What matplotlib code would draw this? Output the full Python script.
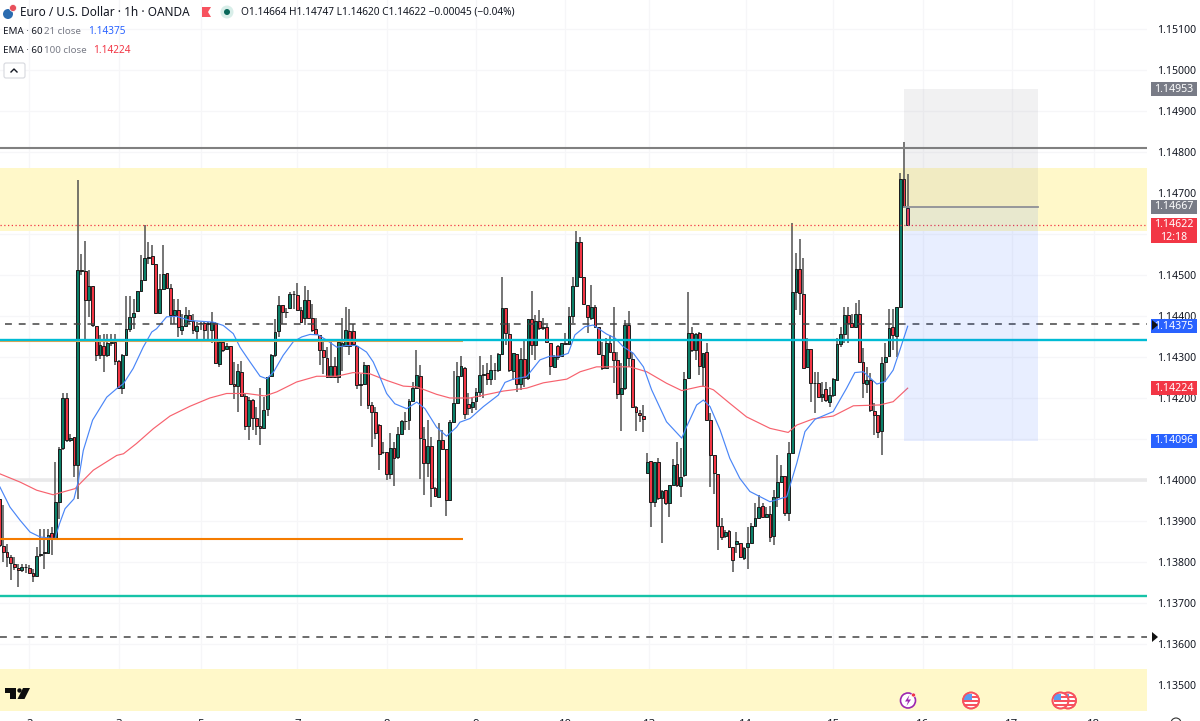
import matplotlib
matplotlib.use("Agg")
import matplotlib.pyplot as plt
from matplotlib.patches import Rectangle, Circle, Polygon, FancyBboxPatch
from matplotlib.transforms import Affine2D

plt.rcParams['font.family'] = ['Noto Sans', 'DejaVu Sans']

# ---- data (prices in 1e-5 units) ----
opens = [
113954,113839,113824,113811,113796,113786,113780,113788,113786,113773,
113766,113816,113822,113823,113871,113857,113946,114079,114201,114098,
114105,114036,114513,114509,114438,114473,114375,114306,114328,114304,
114335,114337,114290,114225,114306,114369,114398,114411,114461,114487,
114542,114547,114526,114407,114467,114505,114469,114403,114415,114367,
114376,114403,114389,114363,114382,114383,114381,114365,114383,114284,
114337,114319,114328,114235,114229,114263,114205,114132,114194,114152,
114132,114128,114172,114254,114304,114363,114427,114409,114420,114453,
114452,114414,114396,114440,114394,114369,114353,114318,114298,114251,
114277,114251,114326,114326,114363,114363,114328,114231,114235,114281,
114184,114166,114135,114069,114068,114015,114079,114056,114111,114145,
114146,114193,114225,114254,114101,114042,114083,113981,113959,114097,
114075,113952,114141,114189,114254,114274,114185,114179,114193,114214,
114257,114260,114246,114268,114268,114307,114420,114355,114267,114307,
114234,114294,114250,114392,114329,114389,114370,114374,114335,114276,
114328,114302,114335,114332,114401,114473,114581,114494,114428,114394,
114423,114372,114305,114274,114333,114311,114293,114210,114224,114377,
114296,114179,114164,114157,114018,114046,113947,114043,113955,113976,
113943,113989,114038,113986,114011,114250,114359,114317,114358,114276,
114311,114146,114061,114014,113888,113864,113876,113836,113843,113846,
113809,113836,113847,113889,113908,113937,113909,113917,113863,113959,
113996,114010,113919,114067,114459,114514,114453,114275,114320,114236,
114236,114203,114221,114191,114207,114244,114331,114356,114402,114382,
114372,114404,114287,114234,114244,114168,114159,114120,114287,114302,
114372,114352,114423,114734,114664]
highs = [
113954,113938,113845,113816,113812,113796,113794,113796,113792,113784,
113837,113881,113881,113881,113885,114044,114080,114211,114211,114113,
114105,114731,114552,114583,114511,114473,114375,114353,114357,114357,
114357,114357,114292,114308,114448,114448,114442,114461,114550,114621,
114580,114572,114526,114503,114572,114505,114479,114442,114442,114406,
114422,114414,114406,114385,114385,114389,114385,114410,114385,114341,
114341,114333,114328,114288,114284,114290,114211,114202,114198,114178,
114225,114202,114251,114308,114393,114450,114427,114420,114459,114460,
114480,114422,114472,114463,114430,114394,114353,114337,114324,114337,
114300,114337,114394,114422,114418,114381,114328,114259,114288,114281,
114190,114178,114137,114093,114068,114115,114093,114129,114146,114166,
114198,114239,114316,114280,114129,114146,114105,113983,114139,114121,
114076,114146,114267,114288,114302,114276,114211,114203,114224,114302,
114280,114285,114305,114285,114309,114494,114420,114382,114309,114307,
114321,114341,114392,114462,114402,114415,114394,114378,114335,114305,
114329,114335,114358,114421,114496,114608,114593,114494,114428,114476,
114427,114374,114337,114346,114354,114421,114313,114285,114390,114413,
114313,114180,114171,114183,114067,114046,114043,114053,113976,113976,
113988,114051,114092,114077,114263,114458,114374,114358,114362,114309,
114333,114163,114061,114014,113907,113878,113878,113837,113874,113847,
113837,113886,113894,113943,113963,113943,113935,113937,113976,114061,
114037,114010,114093,114628,114553,114589,114541,114346,114320,114264,
114264,114240,114240,114228,114248,114346,114374,114423,114423,114406,
114431,114439,114321,114276,114260,114187,114159,114301,114333,114416,
114416,114423,114748,114824,114747]
lows = [
113837,113800,113788,113755,113780,113739,113776,113772,113772,113751,
113763,113812,113784,113820,113816,113855,113906,114072,114093,114093,
114007,113954,114500,114341,114398,114373,114290,114296,114263,114300,
114328,114280,114223,114209,114304,114361,114369,114410,114459,114487,
114528,114524,114404,114406,114463,114467,114380,114380,114349,114353,
114373,114381,114357,114337,114365,114341,114341,114333,114284,114276,
114312,114316,114231,114198,114166,114202,114121,114098,114121,114109,
114086,114125,114155,114251,114300,114349,114381,114396,114418,114418,
114414,114383,114377,114393,114361,114353,114280,114259,114251,114251,
114250,114237,114267,114324,114304,114328,114223,114180,114231,114174,
114080,114101,114025,114064,114001,114003,113985,114052,114109,114121,
114121,114190,114223,114003,113963,114007,113934,113959,113959,114072,
113912,113950,114141,114186,114251,114150,114158,114163,114171,114203,
114199,114232,114232,114244,114264,114305,114329,114264,114244,114214,
114220,114228,114244,114305,114293,114366,114366,114333,114256,114275,
114293,114301,114329,114329,114384,114472,114492,114427,114358,114390,
114372,114305,114268,114272,114309,114236,114197,114120,114220,114276,
114175,114120,114142,114118,114016,113886,113933,113951,113846,113939,
113909,113988,113984,113959,114008,114248,114313,114293,114256,114228,
114146,113984,113967,113829,113854,113858,113833,113776,113821,113809,
113805,113782,113846,113886,113907,113907,113907,113850,113841,113935,
113996,113911,113901,114067,114415,114402,114272,114272,114191,114163,
114203,114191,114191,114177,114203,114244,114325,114333,114333,114370,
114370,114285,114199,114211,114167,114110,114102,114061,114240,114301,
114317,114301,114423,114663,114620]
closes = [
113841,113824,113811,113798,113788,113780,113788,113789,113774,113766,
113815,113820,113824,113867,113859,113946,114076,114201,114098,114102,
114036,114513,114509,114438,114473,114377,114306,114330,114306,114335,
114337,114290,114225,114306,114369,114398,114408,114461,114487,114541,
114545,114528,114407,114467,114503,114469,114403,114415,114372,114375,
114403,114389,114365,114375,114384,114365,114383,114385,114285,114337,
114316,114327,114235,114230,114265,114206,114132,114194,114152,114131,
114128,114170,114251,114304,114361,114428,114410,114409,114453,114454,
114415,114385,114438,114396,114367,114355,114318,114300,114251,114277,
114251,114337,114334,114365,114328,114331,114231,114235,114281,114184,
114166,114115,114064,114069,114015,114078,114054,114111,114143,114145,
114193,114224,114255,114103,114042,114083,113981,113961,114098,114075,
113952,114141,114189,114254,114277,114162,114176,114191,114214,114257,
114259,114246,114268,114268,114307,114420,114358,114268,114309,114234,
114294,114250,114392,114329,114389,114370,114374,114337,114279,114301,
114301,114333,114331,114401,114473,114581,114494,114429,114398,114421,
114374,114307,114272,114333,114311,114293,114210,114224,114377,114297,
114179,114165,114158,114150,114043,113947,114043,113955,113974,113943,
113988,114037,113988,114008,114246,114359,114317,114355,114278,114309,
114146,114061,114016,113889,113862,113872,113836,113805,113852,113811,
113833,113847,113889,113907,113935,113909,113916,113862,113958,113996,
114010,113919,114067,114459,114514,114455,114272,114320,114236,114236,
114203,114209,114195,114207,114246,114331,114356,114402,114382,114372,
114405,114289,114236,114244,114171,114159,114118,114285,114301,114370,
114354,114421,114734,114668,114622]

ema21_bars = [0.1,2.8,5.5,8.2,10.9,14.9,16.1,17.6,20,21.2,22.5,25,28.8,31.5,33.3,35.9,38.6,40.9,42.2,44.9,47.6,51.2,57.4,60.1,62.8,
              64.6,67.3,70,71.8,73.6,76.2,78.9,81.2,83.4,85.6,87.9,90.6,93.3,95.9,98.6,100.4,102.2,104,106.2,109.4,112.1,114.3,117.4,120.1,122.8,
              123.7,126.4,130,134,135.8,138,141.6,145.2,147.9,150.6,152.8,154.6,157.3,159.5,163.1,165.4,167.6,170.3,173,175.2,179.2,183.3,184.6,
              187.3,189.1,190.9,193.6,196.2,198.9,201.6,207,211.5,214.2,216.4,219.1,224,227.6,229.8,232.1,235.7,237.9,240.1,241.9,244]
ema21_vals = [113983,113934,113902,113873,113861,113857,113893,113930,113954,113999,114072,114146,114202,114223,114235,114272,114324,114361,114369,114398,114399,114389,114385,114377,114357,
              114324,114288,114253,114247,114263,114304,114337,114349,114355,114354,114341,114324,114328,114328,114312,114288,114251,114211,114186,114174,114190,114174,114129,114107,114129,
              114141,114150,114179,114207,114238,114246,114252,114293,114302,114302,114309,114354,114374,114378,114356,114346,114325,114309,114276,114220,114142,114102,114130,
              114183,114195,114179,114122,114053,114004,113972,113947,113959,114041,114118,114148,114167,114224,114262,114264,114234,114240,114268,114317,114375]
ema100_bars = [0.1,5.5,10,14.4,20.3,25.2,31.5,33.3,36.8,41.3,45.8,51.2,56.5,61,66.4,71.3,74.5,79.8,85.2,90.6,95,99.5,104,108.5,112.1,117.4,121,126.4,
               135.4,141.6,146.1,152.4,156,160.4,169.4,173.9,179.2,183.3,188.2,189.1,191.8,196.2,200.7,207,211.9,214.2,218.6,224,229.4,236.5,240.1,244]
ema100_vals = [114015,113995,113975,113964,113979,114024,114060,114064,114089,114125,114156,114180,114200,114211,114211,114205,114215,114239,114253,114253,114262,114259,114243,114229,114227,114209,114200,114200,
               114217,114224,114237,114246,114264,114276,114276,114264,114236,114218,114228,114229,114220,114187,114154,114126,114116,114134,114149,114156,114181,114183,114191,114224]

date_labels = ["2", "3", "5", "7", "8", "9", "10", "13", "14", "15", "16", "17", "18"]
date_bars = [8, 32, 54, 80, 104, 128, 152, 174.5, 200.5, 224, 248, 272, 294]
price_ticks = [1.135, 1.136, 1.137, 1.138, 1.139, 1.140, 1.141, 1.142, 1.143, 1.144, 1.145, 1.146, 1.147, 1.148, 1.149, 1.150, 1.151]
covered_ticks = [1.141, 1.146]

zone_upper = (1.14607, 1.14761)
zone_lower = (1.13430, 1.13539)
level_grey = 1.14810
level_dash_up = 1.14380
level_cyan = 1.14341
level_orange_up = 1.14339
level_orange_low = 1.13855
level_teal = 1.13717
level_dash_low = 1.13617
level_round = 1.14000
last_price = 1.14622
target_price = 1.14953
entry_price = 1.14667
stop_price = 1.14096
ema21_last = 1.14375
ema100_last = 1.14224

# ---- colours ----
BULL = "#0b8069"; BEAR = "#f23645"; BLUE = "#2962ff"; WICK = "#505050"
YELLOW = "#fff8c9"; GRID = "#f6f6f8"; TXT = "#131722"; GREY = "#787b86"

W, H = 1200, 721
fig = plt.figure(figsize=(12, 7.21), dpi=100, facecolor="white")
ax = fig.add_axes([0, 1 - 711 / H, 1147 / W, 711 / H])
ax.set_facecolor("white")
ax.set_xlim(0.124, 308.3)
ax.set_ylim(1.14 - 231 / 41000, 1.14 + 480 / 41000)
for s in ax.spines.values():
    s.set_visible(False)
ax.set_axisbelow(True)
ax.yaxis.tick_right()
ax.set_yticks(price_ticks)
ax.set_yticklabels(["" if p in covered_ticks else f"{p:.5f}" for p in price_ticks], fontsize=7.6, color=TXT)
ax.set_xticks(date_bars)
ax.set_xticklabels(date_labels, fontsize=8.2, color=TXT)
ax.tick_params(axis='both', length=0)
ax.tick_params(axis='y', pad=7)
ax.tick_params(axis='x', pad=5.8)
ax.grid(True, color=GRID, lw=0.9)

xl = ax.get_xlim()
# zones
ax.axhspan(*zone_upper, color=YELLOW, lw=0, zorder=1)
ax.axhspan(*zone_lower, color=YELLOW, lw=0, zorder=1)
ax.axhline(level_round, color="#e9e9ea", lw=2.6, zorder=1.5)

# candles
idx = list(range(len(opens)))
o = [v / 1e5 for v in opens]; h = [v / 1e5 for v in highs]
l = [v / 1e5 for v in lows]; c = [v / 1e5 for v in closes]
ax.vlines(idx, l, h, color=WICK, lw=1.1, zorder=3)
cols = [BULL if cc >= oo else BEAR for oo, cc in zip(o, c)]
ax.bar(idx, [abs(a - b) for a, b in zip(o, c)], bottom=[min(a, b) for a, b in zip(o, c)],
       width=0.76, color=cols, edgecolor="#1c1c1c", lw=0.7, zorder=4)

# EMAs
ax.plot(ema100_bars, [v / 1e5 for v in ema100_vals], color="#f7626e", lw=0.85, zorder=5)
ax.plot(ema21_bars, [v / 1e5 for v in ema21_vals], color="#4a86f7", lw=0.85, zorder=5)

# position tool
box_x = (242.9, 279.0)
ax.add_patch(Rectangle((box_x[0], entry_price), box_x[1] - box_x[0], target_price - entry_price,
                       facecolor="#787b86", alpha=0.10, lw=0, zorder=6))
ax.add_patch(Rectangle((box_x[0], stop_price), box_x[1] - box_x[0], entry_price - stop_price,
                       facecolor="#2962ff", alpha=0.105, lw=0, zorder=6))
ax.plot(box_x, [entry_price, entry_price], color="#8f9096", lw=1.3, zorder=6.5)

# levels
ax.axhline(level_grey, color="#808080", lw=1.5, zorder=5.5)
ax.hlines(level_dash_up, 1.5, xl[1], color="#444444", lw=1.1, ls=(0, (4.5, 4.5)), zorder=5.5)
ax.hlines(level_orange_up, xl[0], 124.5, color="#f9a03f", lw=1.5, zorder=5.4)
ax.hlines(level_orange_low, xl[0], 124.5, color="#f57c00", lw=1.5, zorder=5.4)
ax.axhline(level_cyan, color="#00bcd4", lw=1.7, zorder=5.6)
ax.axhline(level_teal, color="#17c3a8", lw=1.7, zorder=5.5)
ax.axhline(level_dash_low, color="#444444", lw=1.1, ls=(0, (4.5, 4.5)), zorder=5.5)
ax.axhline(last_price, color=BEAR, lw=0.9, ls=(0, (1, 2)), zorder=5.5)

# price tags
ytr = ax.get_yaxis_transform()
fx0 = 1151 / 1147
fx1 = 1197 / 1147
fmid = (fx0 + fx1) / 2
def tag(price, colour, txt, hpx=14, offs=0.0, extra=None):
    hp = hpx / 41000
    ax.add_patch(Rectangle((fx0, price - hp / 2 + offs), fx1 - fx0, hp, transform=ytr, facecolor=colour,
                           lw=0, clip_on=False, zorder=8))
    ax.text(fmid, price, txt, transform=ytr, color="white", fontsize=7.6, ha="center", va="center",
            clip_on=False, zorder=9)
    if extra:
        ax.text(fmid, price - 12.5 / 41000, extra, transform=ytr, color="white", fontsize=7.6, ha="center",
                va="center", clip_on=False, zorder=9)

tag(target_price, GREY, f"{target_price:.5f}")
tag(entry_price, GREY, f"{entry_price:.5f}")
tag(last_price, BEAR, f"{last_price:.5f}", hpx=25, offs=-6 / 41000, extra="12:18")
tag(ema21_last, BLUE, f"{ema21_last:.5f}")
tag(ema100_last, BEAR, f"{ema100_last:.5f}")
tag(stop_price, BLUE, f"{stop_price:.5f}")

# pixel-space helpers for header, logo and icons
PX = Affine2D().scale(1 / W, -1 / H).translate(0, 1) + fig.transFigure
def t(x, y, s, color=TXT, size=7.6, **kw):
    kw.setdefault("va", "center")
    return fig.text(x, y, s, color=color, fontsize=size, transform=PX, **kw)
def add(p):
    p.set_transform(PX)
    fig.add_artist(p)
    return p

for yy in (325, 637):
    add(Polygon([(1152, yy - 5), (1158, yy), (1152, yy + 5)], closed=True, fc="#111111", ec="none", zorder=10))

t(20, 12.5, "Euro / U.S. Dollar · 1h · OANDA", size=8.5)
t(241, 12.5, "O1.14664 H1.14747 L1.14620 C1.14622 −0.00045 (−0.04%)", size=7.3)
t(3, 31.5, "EMA · 60", size=7.0)
t(44, 31.5, "21 close", color=GREY, size=7.0)
t(88, 31.5, "1.14375", color=BLUE, size=7.2)
t(3, 50.5, "EMA · 60", size=7.0)
t(44, 50.5, "100 close", color=GREY, size=7.0)
t(93, 50.5, "1.14224", color=BEAR, size=7.2)

add(FancyBboxPatch((4, 63), 21, 15, boxstyle="round,pad=0,rounding_size=2", fc="white", ec="#d6d8de", lw=0.8))
fig.add_artist(plt.Line2D([11, 14, 17], [72, 69, 72], color=TXT, lw=1.0, transform=PX))

# symbol icons
add(Circle((8, 14), 5, fc="#2b6cb0", ec="none"))
add(Circle((13, 8), 3.5, fc="#e8505b", ec="white", lw=0.5))
add(Polygon([(202, 7), (211, 7), (208, 12), (211, 17), (202, 17)], closed=True, fc="#f7525f", ec="none"))
add(Circle((227, 12), 6.5, fc="#d8eee9", ec="none"))
add(Circle((227, 12), 3, fc="#08685a", ec="none"))

# logo
add(Polygon([(5, 688), (16, 688), (16, 699), (10, 699), (10, 693), (5, 693)], closed=True, fc="#0d0d0d", ec="none"))
add(Circle((19.5, 690.5), 2.2, fc="#0d0d0d", ec="none"))
add(Polygon([(23, 688), (30, 688), (24.5, 699), (17.5, 699)], closed=True, fc="#0d0d0d", ec="none"))

# event icons
add(Circle((908, 700.5), 7.5, fc="white", ec="#9c27b0", lw=1.2))
add(Polygon([(909.5, 695), (905, 701.5), (908, 701.5), (906.5, 706), (911, 699.5), (908, 699.5)],
            closed=True, fc="#9c27b0", ec="none"))
add(Circle((913.5, 695), 2, fc="#f23645", ec="white", lw=0.4))

def flag(cx, cy):
    ring = add(Circle((cx, cy), 8, fc="white", ec="#f7525f", lw=1.2))
    for dy in (-3.5, 0.5, 4.5):
        r = add(Rectangle((cx - 7, cy + dy - 0.9), 14, 1.8, fc="#f7525f", ec="none"))
        r.set_clip_path(ring)
    r = add(Rectangle((cx - 7, cy - 7), 7.5, 6.5, fc="#5b9cf0", ec="none"))
    r.set_clip_path(ring)
    add(Circle((cx, cy), 8, fc="none", ec="#f7525f", lw=1.2))

flag(971, 700.5)
flag(1068, 700.5)
flag(1060.5, 700.5)

# time axis settings icon
add(Circle((1176, 723), 5, fc="white", ec="#333333", lw=0.8))

fig.savefig("out.png", dpi=100)
